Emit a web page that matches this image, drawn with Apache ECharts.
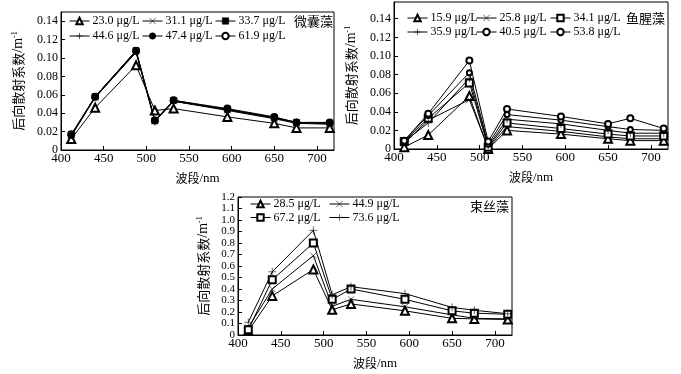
<!DOCTYPE html>
<html><head><meta charset="utf-8">
<script src="https://cdn.jsdelivr.net/npm/echarts@6/dist/echarts.min.js"></script>
<style>html,body{margin:0;padding:0;background:#fff}#c{width:681px;height:374px}</style>
</head><body><div id="c"></div>
<script>
// wavelengths (nm)
const wavelengths = [412, 440, 488, 510, 532, 595, 650, 676, 715];

// Chart 1: 微囊藻
const c1Names = ['23.0 μg/L', '31.1 μg/L', '33.7 μg/L', '44.6 μg/L', '47.4 μg/L', '61.9 μg/L'];
const c1_23_0 = [0.012, 0.046, 0.092, 0.043, 0.045, 0.036, 0.029, 0.024, 0.024];
const c1_31_1 = [0.015, 0.057, 0.106, 0.031, 0.053, 0.043, 0.034, 0.029, 0.028];
const c1_33_7 = [0.016, 0.058, 0.108, 0.032, 0.054, 0.044, 0.035, 0.030, 0.029];
const c1_44_6 = [0.016, 0.057, 0.107, 0.031, 0.053, 0.044, 0.035, 0.030, 0.029];
const c1_47_4 = [0.016, 0.058, 0.107, 0.032, 0.053, 0.044, 0.035, 0.030, 0.029];
const c1_61_9 = [0.017, 0.058, 0.108, 0.032, 0.054, 0.045, 0.036, 0.030, 0.030];

// Chart 2: 鱼腥藻
const c2Names = ['15.9 μg/L', '25.8 μg/L', '34.1 μg/L', '35.9 μg/L', '40.5 μg/L', '53.8 μg/L'];
const c2_15_9 = [0.002, 0.015, 0.057, 0.000, 0.020, 0.016, 0.011, 0.009, 0.009];
const c2_25_8 = [0.006, 0.031, 0.053, 0.001, 0.024, 0.019, 0.013, 0.011, 0.011];
const c2_34_1 = [0.008, 0.033, 0.071, 0.002, 0.028, 0.022, 0.016, 0.014, 0.014];
const c2_35_9 = [0.008, 0.028, 0.076, 0.003, 0.032, 0.027, 0.020, 0.017, 0.017];
const c2_40_5 = [0.009, 0.036, 0.082, 0.005, 0.037, 0.031, 0.024, 0.021, 0.020];
const c2_53_8 = [0.009, 0.038, 0.095, 0.008, 0.043, 0.035, 0.027, 0.033, 0.022];

// Chart 3: 束丝藻
const c3Names = ['28.5 μg/L', '44.9 μg/L', '67.2 μg/L', '73.6 μg/L'];
const c3_28_5 = [0.035, 0.34, 0.57, 0.22, 0.27, 0.21, 0.145, 0.14, 0.135];
const c3_44_9 = [0.065, 0.40, 0.69, 0.25, 0.31, 0.245, 0.175, 0.145, 0.14];
const c3_67_2 = [0.045, 0.48, 0.80, 0.31, 0.40, 0.31, 0.21, 0.19, 0.18];
const c3_73_6 = [0.11, 0.55, 0.91, 0.35, 0.42, 0.36, 0.24, 0.215, 0.185];

const titles = ['微囊藻', '鱼腥藻', '束丝藻'];

const FONT = 'Liberation Serif';
const CJK = 'Noto Sans CJK SC';

const SYM = {
  tri: {symbol: 'emptyTriangle', size: 8},
  cross: {symbol: 'path://M0,0L10,10M10,0L0,10', size: 6},
  rect: {symbol: 'rect', size: 6},
  erect: {symbol: 'emptyRect', size: 7},
  plus: {symbol: 'path://M5,0L5,10M0,5L10,5', size: 8},
  dot: {symbol: 'circle', size: 4},
  edot: {symbol: 'emptyCircle', size: 5},
  circ: {symbol: 'emptyCircle', size: 6}
};

function pairs(v) { return wavelengths.map((w, i) => [w, v[i]]); }
function mkSeries(name, vals, sym, idx, z) {
  return {
    type: 'line', name: name, xAxisIndex: idx, yAxisIndex: idx,
    data: pairs(vals), symbol: SYM[sym].symbol, symbolSize: SYM[sym].size,
    showAllSymbol: true,
    lineStyle: {color: '#000', width: 1},
    itemStyle: {color: '#000', borderColor: '#000', borderWidth: 0.6},
    emphasis: {disabled: true}, animation: false, z: z || 3
  };
}

const series = [
  mkSeries(c1Names[0], c1_23_0, 'tri', 0),
  mkSeries(c1Names[1], c1_31_1, 'cross', 0),
  mkSeries(c1Names[2], c1_33_7, 'rect', 0, 5),
  mkSeries(c1Names[3], c1_44_6, 'plus', 0),
  mkSeries(c1Names[4], c1_47_4, 'dot', 0),
  mkSeries(c1Names[5], c1_61_9, 'circ', 0),
  mkSeries(c2Names[0], c2_15_9, 'tri', 1),
  mkSeries(c2Names[1], c2_25_8, 'cross', 1),
  mkSeries(c2Names[2], c2_34_1, 'erect', 1),
  mkSeries(c2Names[3], c2_35_9, 'plus', 1),
  mkSeries(c2Names[4], c2_40_5, 'edot', 1),
  mkSeries(c2Names[5], c2_53_8, 'circ', 1),
  mkSeries(c3Names[0], c3_28_5, 'tri', 2),
  mkSeries(c3Names[1], c3_44_9, 'cross', 2),
  mkSeries(c3Names[2], c3_67_2, 'erect', 2),
  mkSeries(c3Names[3], c3_73_6, 'plus', 2)
];

const grids = [
  {left: 61, right: 347, top: 12, bottom: 224},
  {left: 394, right: 13, top: 2, bottom: 225},
  {left: 238, right: 169, top: 197, bottom: 39}
];
const yCfg = [
  {max: 0.15, interval: 0.02, dec: 2, gap: 36, fs: 12},
  {max: 0.158, interval: 0.02, dec: 2, gap: 36, fs: 12},
  {max: 1.2, interval: 0.1, dec: 1, gap: 28, fs: 11}
];

const xAxes = grids.map((g, i) => ({
  type: 'value', gridIndex: i, min: 400, max: 720, interval: 50,
  name: '{c|波段}{e|/nm}', nameLocation: 'middle', nameGap: 22,
  nameTextStyle: {rich: {
    c: {fontFamily: CJK, fontSize: 12, color: '#000'},
    e: {fontFamily: FONT, fontSize: 13, color: '#000'}
  }},
  axisLine: {lineStyle: {color: '#000', width: 1}},
  axisTick: {inside: true, length: 4, lineStyle: {color: '#000'}},
  axisLabel: {fontFamily: FONT, fontSize: 13, color: '#000', margin: 2, showMaxLabel: false, hideOverlap: false},
  splitLine: {show: false}
}));
const yAxes = grids.map((g, i) => ({
  type: 'value', gridIndex: i, min: 0, max: yCfg[i].max, interval: yCfg[i].interval,
  name: '{a|后向散射系数}{e|/m}{b|-1}', nameLocation: 'middle', nameGap: yCfg[i].gap,
  nameTextStyle: {rich: {
    a: {fontFamily: CJK, fontSize: 13, color: '#000'},
    e: {fontFamily: FONT, fontSize: 14, color: '#000'},
    b: {fontFamily: FONT, fontSize: 8, color: '#000', verticalAlign: 'top', padding: [0, 0, 6, 0]}
  }},
  axisLine: {show: true, lineStyle: {color: '#000', width: 1}},
  axisTick: {inside: true, length: 4, lineStyle: {color: '#000'}},
  axisLabel: {fontFamily: FONT, fontSize: yCfg[i].fs, color: '#000', margin: 3, showMaxLabel: i === 2,
    hideOverlap: false,
    formatter: v => v === 0 ? '0' : v.toFixed(yCfg[i].dec)},
  splitLine: {show: false}
}));

function leg(data, left, top, gap) {
  return {
    data: data, left: left, top: top, orient: 'vertical', itemGap: gap,
    itemWidth: 20, itemHeight: 8, padding: 0,
    lineStyle: {width: 1},
    itemStyle: {borderWidth: 0.6},
    textStyle: {fontFamily: FONT, fontSize: 12, color: '#000', padding: [0, 0, 0, -2]},
    selectedMode: false
  };
}
const legends = [
  leg([c1Names[0], c1Names[3]], 69, 15, 3),
  leg([c1Names[1], c1Names[4]], 142, 15, 3),
  leg([c1Names[2], c1Names[5]], 215, 15, 3),
  leg([c2Names[0], c2Names[3]], 407, 12, 2),
  leg([c2Names[1], c2Names[4]], 476, 12, 2),
  leg([c2Names[2], c2Names[5]], 550, 12, 2),
  leg([c3Names[0], c3Names[2]], 250, 198, 1.5),
  leg([c3Names[1], c3Names[3]], 329, 198, 1.5)
];

const graphic = [
  {type: 'text', left: 294, top: 15, style: {text: titles[0], font: '13px ' + CJK, fill: '#000'}},
  {type: 'text', left: 626, top: 12, style: {text: titles[1], font: '13px ' + CJK, fill: '#000'}},
  {type: 'text', left: 470, top: 200, style: {text: titles[2], font: '13px ' + CJK, fill: '#000'}}
];

const chart = echarts.init(document.getElementById('c'), null, {renderer: 'canvas'});
chart.setOption({
  animation: false,
  backgroundColor: '#fff',
  textStyle: {fontFamily: FONT, color: '#000'},
  grid: grids.map(g => Object.assign({show: true, borderColor: '#000', borderWidth: 1, backgroundColor: 'transparent'}, g)),
  xAxis: xAxes, yAxis: yAxes,
  legend: legends,
  graphic: graphic,
  series: series
});
</script></body></html>
